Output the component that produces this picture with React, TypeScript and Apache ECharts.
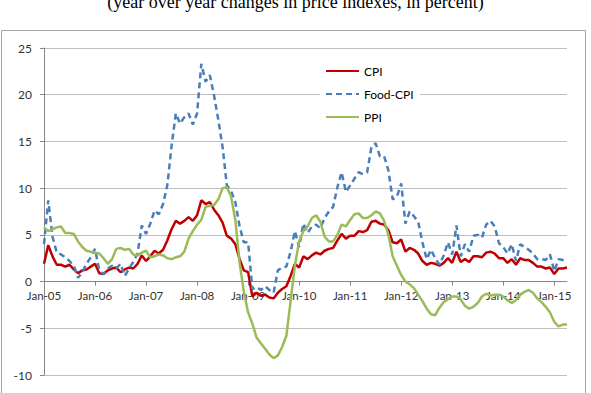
import React, { useEffect, useRef } from "react";
import * as echarts from "echarts";

// Monthly categories, Jan-05 through Apr-15
const monthNames = ["Jan", "Feb", "Mar", "Apr", "May", "Jun", "Jul", "Aug", "Sep", "Oct", "Nov", "Dec"];
const categories: string[] = [];
for (let y = 2005; y <= 2015; y++) {
  for (let m = 0; m < 12; m++) {
    if (y === 2015 && m > 3) break;
    categories.push(`${monthNames[m]}-${String(y).slice(2)}`);
  }
}

// Year-over-year changes, percent
const cpi = [
  1.9, 3.9, 2.7, 1.8, 1.8, 1.6, 1.8, 1.3, 0.9, 1.2, 1.3, 1.6,
  1.9, 0.9, 0.8, 1.2, 1.4, 1.5, 1.0, 1.3, 1.5, 1.4, 1.9, 2.8,
  2.2, 2.7, 3.3, 3.0, 3.4, 4.4, 5.6, 6.5, 6.2, 6.5, 6.9, 6.5,
  7.1, 8.7, 8.3, 8.5, 7.7, 7.1, 6.3, 4.9, 4.6, 4.0, 2.4, 1.2,
  1.0, -1.6, -1.2, -1.5, -1.4, -1.7, -1.8, -1.2, -0.8, -0.5, 0.6, 1.9,
  1.5, 2.7, 2.4, 2.8, 3.1, 2.9, 3.3, 3.5, 3.6, 4.4, 5.1, 4.6,
  4.9, 4.9, 5.4, 5.3, 5.5, 6.4, 6.5, 6.2, 6.1, 5.5, 4.2, 4.1,
  4.5, 3.2, 3.6, 3.4, 3.0, 2.2, 1.8, 2.0, 1.9, 1.7, 2.0, 2.5,
  2.0, 3.2, 2.1, 2.4, 2.1, 2.7, 2.7, 2.6, 3.1, 3.2, 3.0, 2.5,
  2.5, 2.0, 2.4, 1.8, 2.5, 2.3, 2.3, 2.0, 1.6, 1.6, 1.4, 1.5,
  0.8, 1.4, 1.4, 1.5,
];

const foodCpi = [
  4.0, 8.7, 4.8, 3.1, 2.9, 2.6, 2.2, 1.7, 0.4, 1.0, 1.9, 2.6,
  3.5, 1.2, 0.8, 1.4, 1.7, 1.4, 1.9, 0.6, 1.4, 2.1, 3.0, 6.0,
  5.1, 6.2, 7.6, 7.2, 8.3, 10.3, 14.5, 18.0, 16.9, 17.6, 18.0, 16.8,
  18.0, 23.3, 21.4, 22.1, 19.9, 17.3, 14.4, 10.3, 9.7, 8.5, 5.9, 4.2,
  4.2, -0.8, -0.6, -0.9, -0.5, -0.9, -1.2, 1.2, 1.5, 1.6, 3.2, 5.4,
  3.7, 6.2, 5.2, 5.9, 6.1, 5.7, 6.8, 7.5, 8.0, 10.1, 11.7, 9.6,
  10.3, 11.0, 11.7, 11.5, 11.7, 14.4, 14.8, 13.4, 13.4, 11.9, 8.8, 9.1,
  10.5, 6.2, 7.5, 7.0, 6.4, 4.2, 2.4, 3.4, 2.5, 1.8, 2.8, 4.2,
  2.9, 6.0, 2.7, 4.0, 3.2, 4.9, 5.0, 4.7, 6.1, 6.5, 5.9, 4.1,
  3.7, 3.0, 4.0, 2.2, 4.0, 3.7, 3.4, 3.0, 2.4, 2.4, 2.3, 2.9,
  1.1, 2.4, 2.3, 2.3,
];

const ppi = [
  5.8, 5.4, 5.6, 5.8, 5.9, 5.2, 5.2, 5.1, 4.3, 3.7, 3.3, 3.2,
  3.1, 3.0, 2.5, 1.9, 2.4, 3.5, 3.6, 3.4, 3.5, 2.9, 2.8, 3.1,
  3.3, 2.6, 2.7, 2.9, 2.8, 2.5, 2.4, 2.6, 2.7, 3.2, 4.6, 5.4,
  6.1, 6.6, 8.0, 8.1, 8.2, 8.8, 10.0, 10.1, 9.1, 6.6, 2.0, -1.1,
  -3.3, -4.5, -6.0, -6.6, -7.2, -7.8, -8.2, -7.9, -7.0, -5.8, -2.1, 1.7,
  4.3, 5.4, 5.9, 6.8, 7.1, 6.4, 4.8, 4.3, 4.3, 5.0, 6.1, 5.9,
  6.6, 7.2, 7.3, 6.8, 6.8, 7.1, 7.5, 7.3, 6.5, 5.0, 2.7, 1.7,
  0.7, 0.0, -0.3, -0.7, -1.4, -2.1, -2.9, -3.5, -3.6, -2.8, -2.2, -1.9,
  -1.6, -1.6, -1.9, -2.6, -2.9, -2.7, -2.3, -1.6, -1.3, -1.5, -1.4, -1.4,
  -1.6, -2.0, -2.3, -2.0, -1.4, -1.1, -0.9, -1.2, -1.8, -2.2, -2.7, -3.3,
  -4.3, -4.8, -4.6, -4.6,
];

const yMin = -10;
const yMax = 25;
const subtitle = "(year over year changes in price indexes, in percent)";
const sansFont = "Lato, 'Open Sans', sans-serif";

// Plot box in pixels
const gridTop = 48;
const gridBottom = 18;
const chartHeight = 393;

export default function App() {
  const ref = useRef<HTMLDivElement>(null);

  useEffect(() => {
    if (!ref.current) return;
    const chart = echarts.init(ref.current, undefined, { renderer: "svg" });
    const yearTick = (i: number) => i % 12 === 0;

    // The category axis sits on the zero line: shift it up from the plot's bottom edge.
    const plotHeight = chartHeight - gridTop - gridBottom;
    const zeroShift = (plotHeight * (0 - yMin)) / (yMax - yMin);

    chart.setOption({
      animation: false,
      backgroundColor: "#ffffff",
      grid: { left: 44, right: 24, top: gridTop, bottom: gridBottom, containLabel: false },
      graphic: [
        {
          type: "rect",
          shape: { x: 1.5, y: 30.5, width: 584, height: 380 },
          style: { fill: "none", stroke: "#a6a6a6", lineWidth: 1 },
          silent: true,
          z: -1,
        },
        {
          type: "text",
          x: 295.5,
          y: 11,
          style: {
            text: subtitle,
            fontFamily: "'Liberation Serif', 'Times New Roman', serif",
            fontSize: 18,
            fill: "#000000",
            align: "center",
            verticalAlign: "bottom",
          },
        },
      ],
      legend: {
        data: ["CPI", "Food-CPI", "PPI"],
        orient: "vertical",
        left: 320,
        top: 61,
        itemWidth: 33,
        itemHeight: 12,
        itemGap: 11,
        padding: [4, 6, 4, 5],
        backgroundColor: "#ffffff",
        itemStyle: { opacity: 0 },
        textStyle: { fontFamily: sansFont, fontSize: 12, color: "#000000" },
      },
      xAxis: {
        type: "category",
        data: categories,
        boundaryGap: false,
        offset: -zeroShift,
        axisLine: { onZero: false, lineStyle: { color: "#868686", width: 1 } },
        axisTick: { show: true, interval: yearTick, length: 4, lineStyle: { color: "#868686" } },
        axisLabel: {
          interval: yearTick,
          margin: 8,
          fontFamily: sansFont,
          fontSize: 11.5,
          color: "#333333",
        },
        splitLine: { show: false },
      },
      yAxis: {
        type: "value",
        min: yMin,
        max: yMax,
        interval: 5,
        axisLine: { show: true, lineStyle: { color: "#868686", width: 1 } },
        axisTick: { show: true, length: 4, lineStyle: { color: "#868686" } },
        axisLabel: { margin: 12, fontFamily: sansFont, fontSize: 12, color: "#333333" },
        splitLine: { lineStyle: { color: "#bfbfbf", width: 1 } },
      },
      series: [
        {
          name: "CPI",
          type: "line",
          data: cpi,
          symbol: "none",
          lineStyle: { color: "#c00000", width: 2.5 },
          itemStyle: { color: "#c00000" },
        },
        {
          name: "Food-CPI",
          type: "line",
          data: foodCpi,
          symbol: "none",
          lineStyle: { color: "#4a7ebb", width: 2.5, type: [6, 4] },
          itemStyle: { color: "#4a7ebb" },
        },
        {
          name: "PPI",
          type: "line",
          data: ppi,
          symbol: "none",
          lineStyle: { color: "#9bbb59", width: 2.5 },
          itemStyle: { color: "#9bbb59" },
        },
      ],
    });

    return () => chart.dispose();
  }, []);

  return (
    <div
      ref={ref}
      style={{ position: "absolute", left: 0, top: 0, width: 591, height: 393, background: "#ffffff" }}
    />
  );
}
